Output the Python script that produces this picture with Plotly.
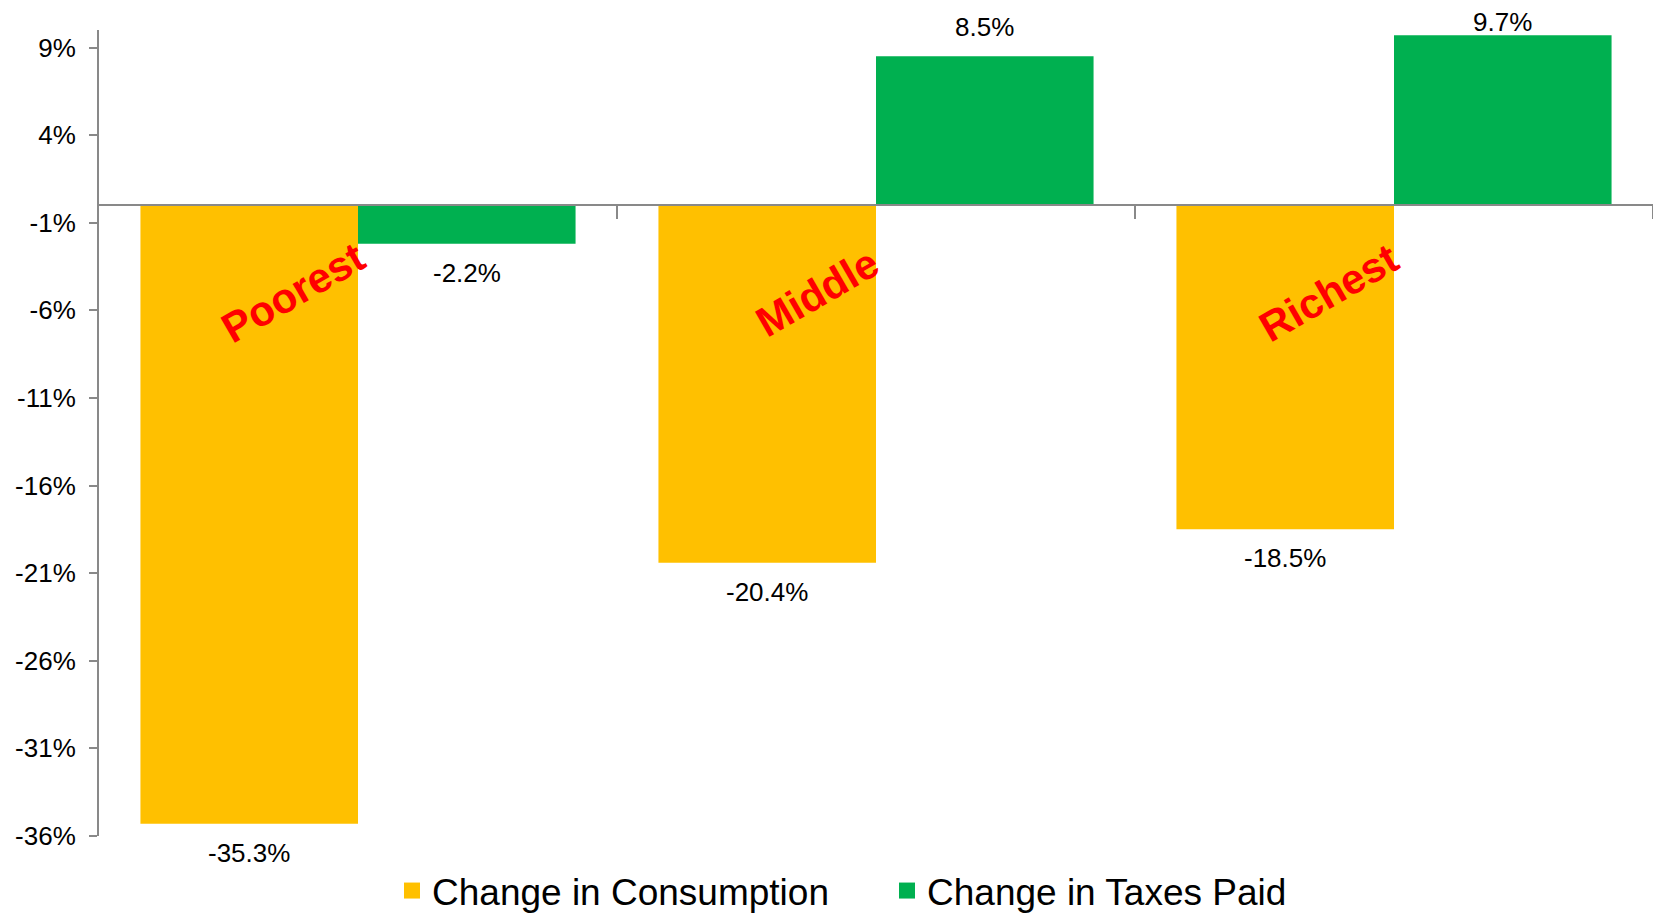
import plotly.graph_objects as go

categories = ["Poorest", "Middle", "Richest"]
consumption = [-35.3, -20.4, -18.5]
taxes = [-2.2, 8.5, 9.7]
series_names = ["Change in Consumption", "Change in Taxes Paid"]
ytick_vals = [-36, -31, -26, -21, -16, -11, -6, -1, 4, 9]
ytick_text = [f"{v}%" for v in ytick_vals]

YELLOW = "#FFC000"
GREEN = "#00B050"
GREY = "#898989"
FONT = "Liberation Sans, Arial, sans-serif"

# page body has an 8px margin, so the figure is sized to the visible area
W, H = 1653, 906
M_L, M_R, M_T, M_B = 91, 8, 22, 78
Y_MIN, Y_MAX = -36, 10
plot_h = H - M_T - M_B
px_per_unit = plot_h / (Y_MAX - Y_MIN)

xs = list(range(len(categories)))
BARGAP = 0.16
half = (1 - BARGAP) / 4  # center offset of each bar in a group

fig = go.Figure()
fig.add_trace(go.Bar(x=xs, y=consumption, name=series_names[0], marker=dict(color=YELLOW, line=dict(width=0)),
                     showlegend=False))
fig.add_trace(go.Bar(x=xs, y=taxes, name=series_names[1], marker=dict(color=GREEN, line=dict(width=0)),
                     showlegend=False))
# legend entries
for nm, col in zip(series_names, [YELLOW, GREEN]):
    fig.add_trace(go.Scatter(x=[None], y=[None], mode="markers", name=nm,
                             marker=dict(symbol="square", size=20, color=col)))

annotations = []
def label_shift(v):
    bar_px = M_T + (Y_MAX - v) * px_per_unit
    if v >= 0:
        center = max(bar_px - 29, 14)
        return bar_px - center
    return -29

for vals, off in [(consumption, -half), (taxes, half)]:
    for i, v in enumerate(vals):
        annotations.append(dict(x=i + off, y=v, xref="x", yref="y", text=f"{v:.1f}%",
                                showarrow=False, yanchor="middle", yshift=label_shift(v),
                                font=dict(family=FONT, size=26, color="#000000")))

label_dx = [-0.125, -0.113, -0.125]
for i, c in enumerate(categories):
    annotations.append(dict(x=i + label_dx[i], y=-5.0, xref="x", yref="y", text=f"<b>{c}</b>",
                            showarrow=False, textangle=-30,
                            font=dict(family=FONT, size=42, color="#FF0000")))

fig.update_layout(
    width=W, height=H,
    margin=dict(l=M_L, r=M_R, t=M_T, b=M_B, autoexpand=False),
    paper_bgcolor="white", plot_bgcolor="white",
    barmode="group", bargap=BARGAP, bargroupgap=0,
    font=dict(family=FONT, color="#000000"),
    xaxis=dict(range=[-0.5, len(categories) - 0.5], anchor="free",
               position=(0 - Y_MIN) / (Y_MAX - Y_MIN), automargin=False,
               showline=True, linecolor=GREY, linewidth=2,
               tickmode="array", tickvals=[i + 0.5 for i in xs],
               ticks="outside", ticklen=13, tickwidth=2, tickcolor=GREY,
               showticklabels=False, showgrid=False, zeroline=False),
    yaxis=dict(range=[Y_MIN, Y_MAX], tickmode="array", tickvals=ytick_vals, ticktext=ytick_text,
               automargin=False,
               showline=True, linecolor=GREY, linewidth=2,
               ticks="outside", ticklen=8, tickwidth=2, tickcolor=GREY,
               ticklabelstandoff=8,
               tickfont=dict(family=FONT, size=26, color="#000000"),
               showgrid=False, zeroline=False),
    legend=dict(orientation="h", xref="container", x=384 / W, xanchor="left",
                yref="container", y=1 - 883 / H, yanchor="middle",
                entrywidth=450, entrywidthmode="pixels",
                font=dict(family=FONT, size=37, color="#000000"),
                bgcolor="rgba(0,0,0,0)"),
    annotations=annotations,
)

fig.write_html("out.html")
